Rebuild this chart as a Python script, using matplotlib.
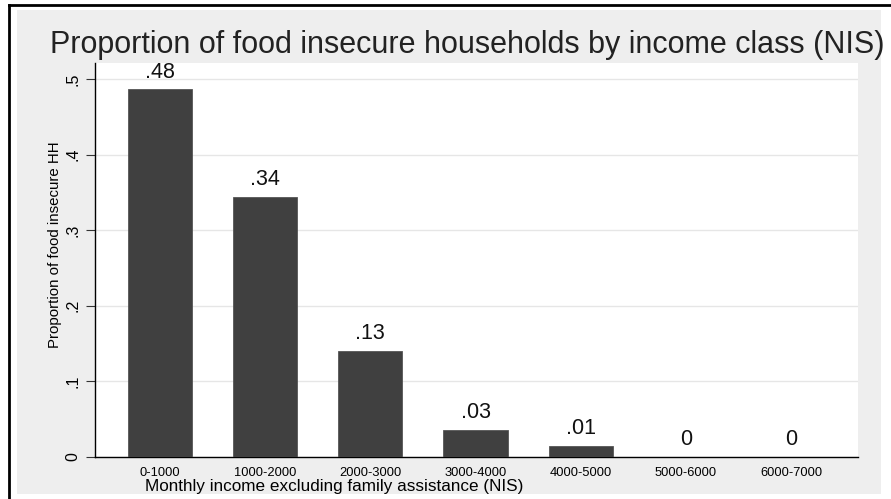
import matplotlib.pyplot as plt
from matplotlib.patches import Rectangle
from matplotlib.lines import Line2D

# Data
classes = ["0-1000", "1000-2000", "2000-3000", "3000-4000", "4000-5000", "5000-6000", "6000-7000"]
proportion = [0.486, 0.344, 0.140, 0.036, 0.014, 0.0, 0.0]
bar_labels = [".48", ".34", ".13", ".03", ".01", "0", "0"]
yticks = [0, 0.1, 0.2, 0.3, 0.4, 0.5]
ytick_labels = ["0", ".1", ".2", ".3", ".4", ".5"]

plt.rcParams['font.family'] = ['Liberation Sans', 'DejaVu Sans']

W, H = 891, 499
fig = plt.figure(figsize=(W / 100, H / 100), dpi=100)
fig.patch.set_facecolor("white")

# Stata-like gray panel and outer border
fig.add_artist(Rectangle((17 / W, 1 - 494 / H), (881 - 17) / W, (494 - 10) / H,
                         transform=fig.transFigure, facecolor="#eeeeee", edgecolor="none", zorder=0))
fig.add_artist(Line2D([9 / W, 1], [1 - 4.5 / H, 1 - 4.5 / H], transform=fig.transFigure, color="black", lw=2))
fig.add_artist(Line2D([9 / W, 9 / W], [0, 1 - 4.5 / H], transform=fig.transFigure, color="black", lw=2))

ax = fig.add_axes([95 / W, (H - 457) / H, (858 - 95) / W, (457 - 63) / H])
ax.set_facecolor("white")

x = list(range(len(classes)))
ax.bar(x, proportion, width=0.61, color="#404040", edgecolor="#555555", linewidth=0.6, zorder=3)

for xi, v, lab in zip(x, proportion, bar_labels):
    ax.annotate(lab, (xi, v), xytext=(0, 5), textcoords="offset points",
                ha="center", va="bottom", fontsize=15.5, color="#111111")

ax.set_xlim(-0.618, 6.637)
ax.set_ylim(0, 0.521)
ax.set_yticks(yticks)
ax.set_yticklabels(ytick_labels, rotation=90, va="center", fontsize=11.5)
ax.set_xticks(x)
ax.set_xticklabels(classes, fontsize=9.3)
ax.tick_params(axis="x", length=0, pad=7)
ax.tick_params(axis="y", length=6.5, width=0.8, pad=4, color="#333333")
ax.yaxis.grid(True, color="#e6e6e6", linewidth=1)
ax.set_axisbelow(True)

for s in ["top", "right"]:
    ax.spines[s].set_visible(False)
ax.spines["left"].set_linewidth(1)
ax.spines["bottom"].set_linewidth(1)

fig.text(467 / W, 1 - 45 / H, "Proportion of food insecure households by income class (NIS)",
         ha="center", va="center", fontsize=22, color="#222222")
fig.text(55 / W, 1 - 245 / H, "Proportion of food insecure HH", rotation=90,
         ha="center", va="center", fontsize=10.8)
fig.text(334 / W, 1 - 486 / H, "Monthly income excluding family assistance (NIS)",
         ha="center", va="center", fontsize=12.3)

fig.savefig("out.png", dpi=100)
